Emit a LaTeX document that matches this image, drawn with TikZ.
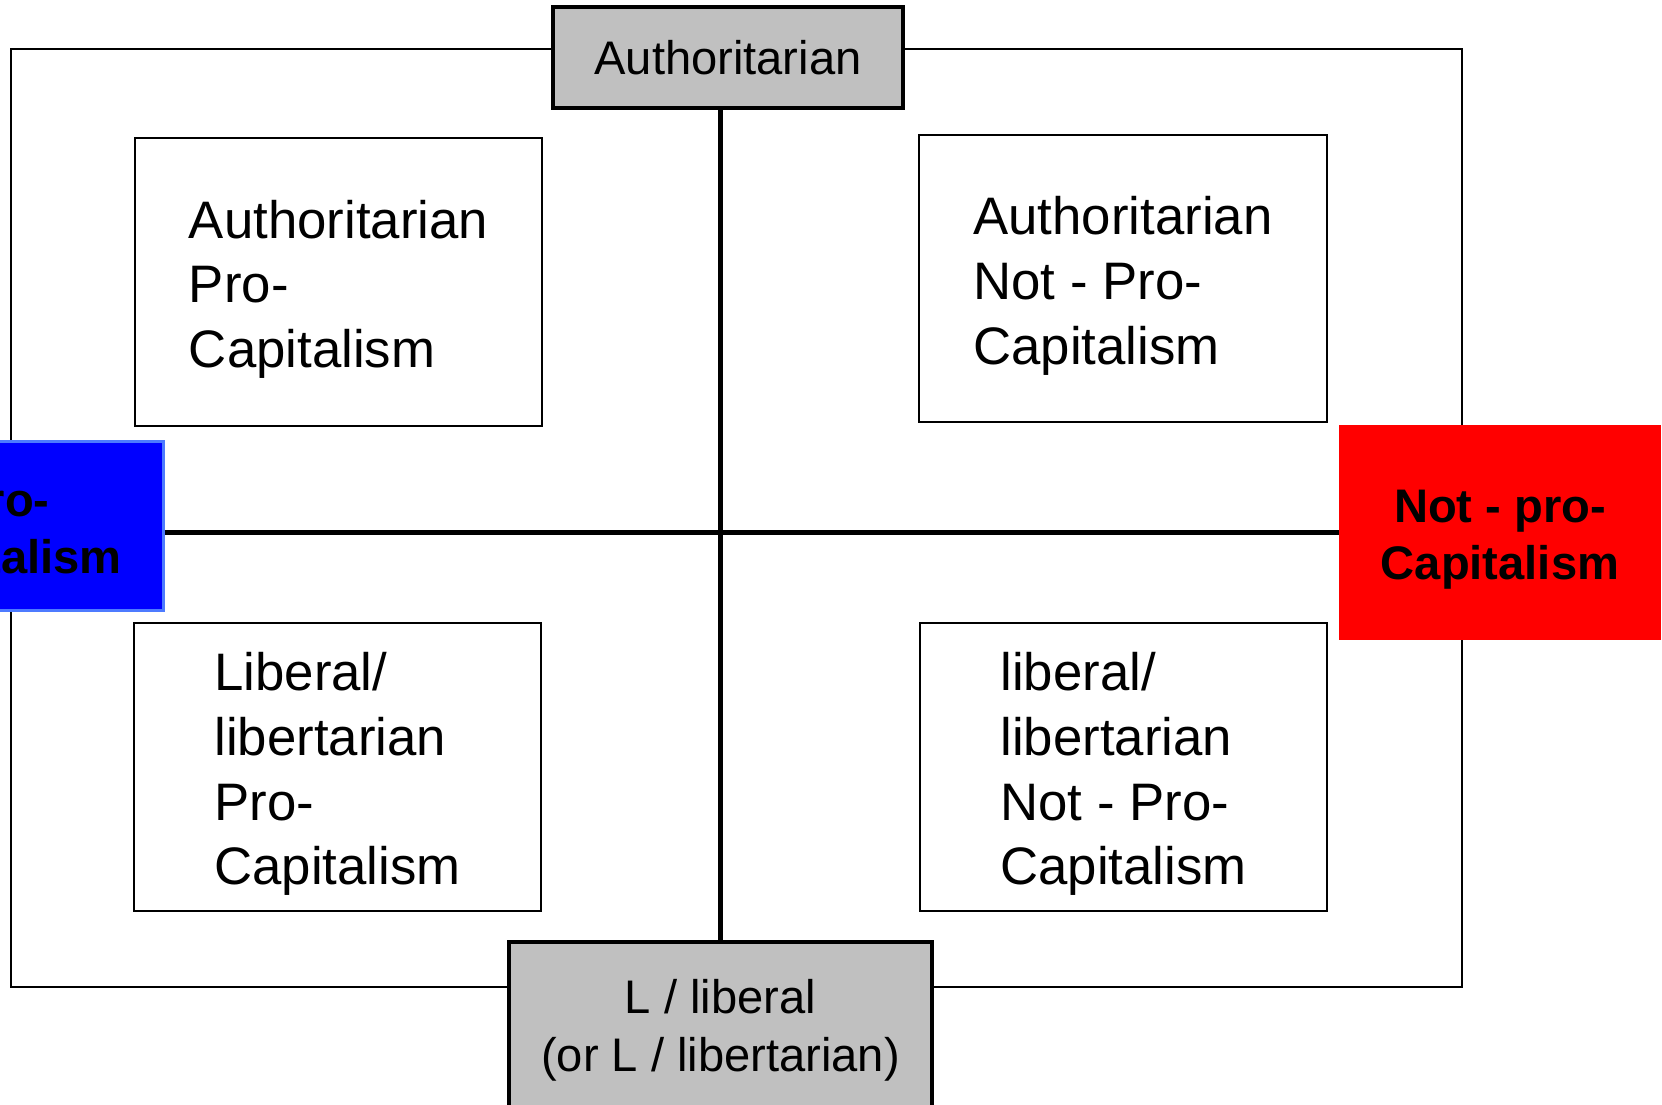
\documentclass[tikz,border=0pt]{standalone}
\usepackage{fontspec}
\setmainfont{Liberation Sans}
\definecolor{axisgray}{HTML}{C0C0C0}
\definecolor{problue}{HTML}{0000FF}
\definecolor{blueedge}{HTML}{4D7BFF}
\definecolor{notred}{HTML}{FF0000}
\newcommand{\qstrut}[1][1em]{\rule{0pt}{#1}}

\begin{document}
\begin{tikzpicture}[x=0.01cm,y=-0.01cm,
    axisbox/.style={draw,line width=1.1pt,fill=axisgray,inner sep=0pt,align=center,
      font=\fontsize{13.4}{16.4}\selectfont},
    quadbox/.style={draw,line width=0.55pt,minimum width=4.07cm,minimum height=2.87cm,
      inner sep=0pt,align=left,font=\fontsize{15}{18.4}\selectfont},
    sidebox/.style={inner sep=0pt,minimum width=3.21cm,align=center,
      font=\fontsize{13.4}{16.2}\bfseries\selectfont},
    axis/.style={line width=1.6pt}]
                \useasboundingbox (0,0) rectangle (1662,1105);
                \clip (0,0) rectangle (1662,1105);

                % outer frame
                \draw[line width=0.45pt] (11,49) rectangle (1462,987);

                % the four quadrants
                \node[quadbox] (authpro) at (338.5,282) {\qstrut Authoritarian\\Pro-\\Capitalism};
                \node[quadbox] (authnot) at (1123,278.5) {\qstrut Authoritarian\\Not - Pro-\\Capitalism};
                \node[quadbox] (libpro) at (337.5,767) {\qstrut Liberal/\\libertarian\\Pro-\\Capitalism};
                \node[quadbox] (libnot) at (1123.5,767) {\qstrut liberal/\\libertarian\\Not - Pro-\\Capitalism};

                % axis ends
                \node[axisbox,minimum width=3.5cm,minimum height=1.01cm] (auth) at (728,57.5) {Authoritarian};
                \node[axisbox,minimum width=4.23cm,minimum height=1.68cm] (lib) at (720.5,1026) {\qstrut[0.9em]L / liberal\\(or L / libertarian)};
                \node[sidebox,fill=problue,draw=blueedge,line width=0.85pt,minimum height=1.68cm] (pro) at (2.5,526) {\qstrut Pro-\\Capitalism};
                \node[sidebox,fill=notred,minimum height=2.15cm] (notpro) at (1500,532.5) {\qstrut Not - pro-\\Capitalism};

                % axes
                \draw[axis] (auth.south -| lib.north) -- (lib.north);
                \draw[axis] (pro.east |- notpro.west) -- (notpro.west);
\end{tikzpicture}
\end{document}
